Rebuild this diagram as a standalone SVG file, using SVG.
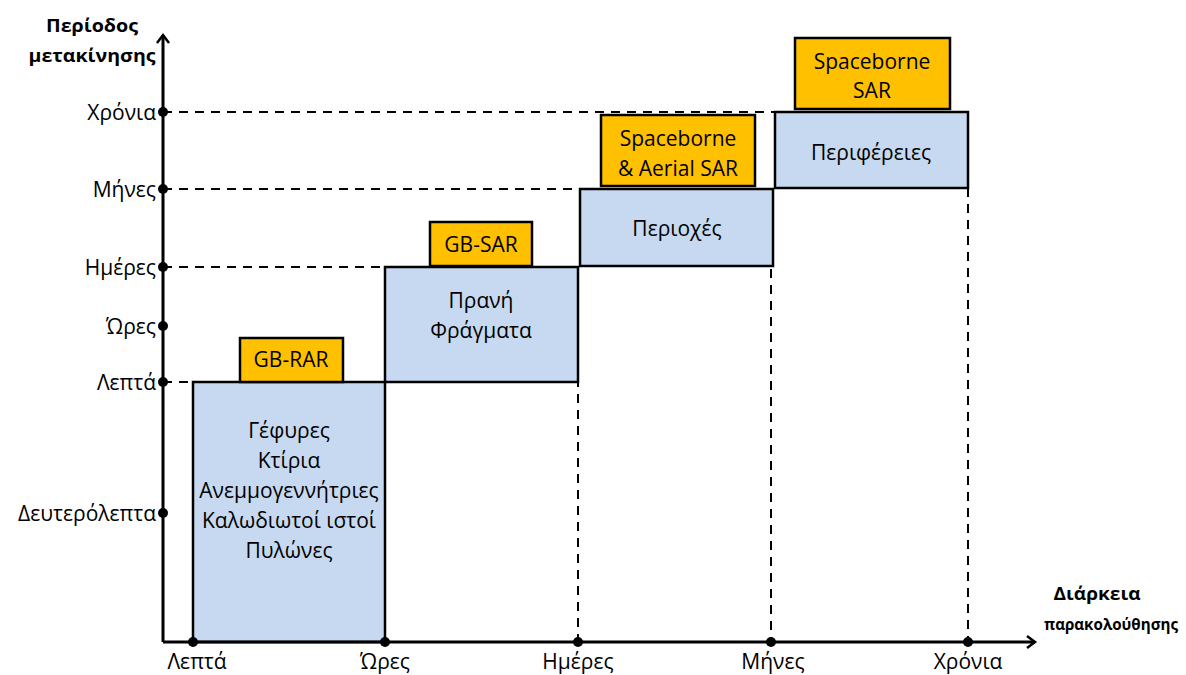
<svg xmlns="http://www.w3.org/2000/svg" width="1186" height="675" viewBox="0 0 1186 675">
<style>
text{font-family:"Open Sans","Noto Sans","DejaVu Sans",sans-serif;font-size:21px;fill:#000}
.b{font-weight:bold;font-size:18px}
.m{text-anchor:middle}
.r{text-anchor:end}
.blue{fill:#C6D9F1;stroke:#000;stroke-width:2.5}
.org{fill:#FFC000;stroke:#000;stroke-width:2.5}
.dash{stroke:#000;stroke-width:2;stroke-dasharray:9,7;fill:none}
.ax{stroke:#000;stroke-width:3;fill:none}
</style>
<defs>
<marker id="ah" markerWidth="14" markerHeight="14" refX="10" refY="7" orient="auto" markerUnits="userSpaceOnUse">
<path d="M2,1 L10,7 L2,13" fill="none" stroke="#000" stroke-width="2.5"/>
</marker>
</defs>
<g id="connectors">
<line class="dash" x1="163" y1="112" x2="775" y2="112"/>
<line class="dash" x1="163" y1="189" x2="580" y2="189"/>
<line class="dash" x1="163" y1="267" x2="385" y2="267"/>
<line class="dash" x1="163" y1="382" x2="193" y2="382"/>
<line class="dash" x1="578" y1="266" x2="578" y2="642"/>
<line class="dash" x1="771" y1="189" x2="771" y2="642"/>
<line class="dash" x1="968" y1="188" x2="968" y2="642"/>
</g>
<g id="box1"><rect class="blue" x="193" y="382" width="192" height="260"/>
<text class="m" x="289" y="438">Γέφυρες</text>
<text class="m" x="289" y="468">Κτίρια</text>
<text class="m" x="289" y="498">Ανεμμογεννήτριες</text>
<text class="m" x="289" y="528">Καλωδιωτοί ιστοί</text>
<text class="m" x="289" y="558">Πυλώνες</text></g>
<g id="box2"><rect class="blue" x="385" y="267" width="193" height="115"/>
<text class="m" x="481" y="308">Πρανή</text>
<text class="m" x="481" y="338">Φράγματα</text></g>
<g id="box3"><rect class="blue" x="580" y="189" width="193" height="77"/>
<text class="m" x="677" y="236">Περιοχές</text></g>
<g id="box4"><rect class="blue" x="775" y="112" width="193" height="76"/>
<text class="m" x="871" y="160">Περιφέρειες</text></g>
<g id="gbrar"><rect class="org" x="240" y="338" width="103" height="44"/>
<text class="m" x="291" y="367">GB-RAR</text></g>
<g id="gbsar"><rect class="org" x="430" y="222" width="102" height="44"/>
<text class="m" x="481" y="252">GB-SAR</text></g>
<g id="aerial"><rect class="org" x="601" y="115" width="154" height="71"/>
<text class="m" x="678" y="146">Spaceborne</text>
<text class="m" x="678" y="176">&amp; Aerial SAR</text></g>
<g id="spaceborne"><rect class="org" x="795" y="38" width="155" height="71"/>
<text class="m" x="872" y="69">Spaceborne</text>
<text class="m" x="872" y="98">SAR</text></g>
<g id="axes">
<line class="ax" x1="163" y1="642" x2="163" y2="35" marker-end="url(#ah)"/>
<line class="ax" x1="163" y1="642" x2="1035" y2="642" marker-end="url(#ah)"/>
<g fill="#000">
<circle cx="163" cy="112" r="5"/><circle cx="163" cy="189" r="5"/><circle cx="163" cy="267" r="5"/>
<circle cx="163" cy="326" r="5"/><circle cx="163" cy="382" r="5"/><circle cx="163" cy="513" r="5"/>
<circle cx="193" cy="642" r="5"/><circle cx="385" cy="642" r="5"/><circle cx="578" cy="642" r="5"/>
<circle cx="771" cy="642" r="5"/><circle cx="968" cy="642" r="5"/>
</g>
</g>
<g id="labels">
<text class="b m" x="92" y="32" textLength="92" lengthAdjust="spacingAndGlyphs">Περίοδος</text>
<text class="b m" x="92" y="62" textLength="127" lengthAdjust="spacingAndGlyphs">μετακίνησης</text>
<text class="r" x="156" y="120">Χρόνια</text>
<text class="r" x="156" y="197">Μήνες</text>
<text class="r" x="156" y="275">Ημέρες</text>
<text class="r" x="156" y="334">Ώρες</text>
<text class="r" x="156" y="390">Λεπτά</text>
<text class="r" x="156" y="521">Δευτερόλεπτα</text>
<text class="m" x="197" y="669">Λεπτά</text>
<text class="m" x="385" y="669">Ώρες</text>
<text class="m" x="578" y="669">Ημέρες</text>
<text class="m" x="773" y="669">Μήνες</text>
<text class="m" x="968" y="669">Χρόνια</text>
<text class="b m" x="1097" y="600" textLength="87" lengthAdjust="spacingAndGlyphs">Διάρκεια</text>
<text class="b m" x="1111" y="630" style="font-size:16px" textLength="134" lengthAdjust="spacingAndGlyphs">παρακολούθησης</text>
</g>
</svg>
